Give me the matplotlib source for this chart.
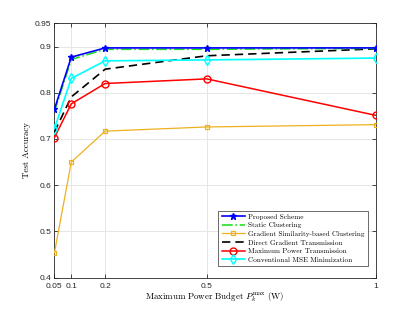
#!/usr/bin/env python3
import numpy as np
import matplotlib
matplotlib.use('Agg')
import matplotlib.pyplot as plt
plt.rcParams['font.family'] = 'Liberation Sans'
plt.rcParams['mathtext.fontset'] = 'cm'
plt.rcParams['font.size'] = 6

power_budget = [0.05, 0.1, 0.2, 0.5, 1.0]
proposed = [0.764, 0.877, 0.897, 0.897, 0.897]
static_clustering = [0.759, 0.872, 0.894, 0.894, 0.896]
grad_similarity = [0.453, 0.650, 0.717, 0.726, 0.731]
direct_transmission = [0.715, 0.791, 0.851, 0.880, 0.895]
max_power = [0.703, 0.776, 0.820, 0.830, 0.751]
conventional_mse = [0.722, 0.831, 0.869, 0.871, 0.875]

x_ticks = [0.05, 0.1, 0.2, 0.5, 1]
x_tick_labels = ['0.05', '0.1', '0.2', '0.5', '1']
y_ticks = [0.4, 0.5, 0.6, 0.7, 0.8, 0.9, 0.95]
y_tick_labels = ['0.4', '0.5', '0.6', '0.7', '0.8', '0.9', '0.95']

serif = 'cmr10'


def main():
    fig = plt.figure(figsize=(4.15, 3.12), dpi=100)
    ax = fig.add_axes([0.131, 0.110, 0.775, 0.815])

    ax.plot(power_budget, proposed, color='#0000ff', lw=1.2, marker='*', ms=5,
            label='Proposed Scheme', zorder=6)
    ax.plot(power_budget, static_clustering, color='#22e022', lw=1.2, ls='-.',
            label='Static Clustering', zorder=5)
    ax.plot(power_budget, grad_similarity, color='#EDB120', lw=0.9, marker='s', ms=3.5,
            mfc='none', mew=0.9, label='Gradient Similarity-based Clustering', zorder=4)
    ax.plot(power_budget, direct_transmission, color='black', lw=1.2, ls=(0, (5, 3)),
            label='Direct Gradient Transmission', zorder=3)
    ax.plot(power_budget, max_power, color='#ff0000', lw=1.1, marker='o', ms=5,
            mfc='none', mew=1.0, label='Maximum Power Transmission', zorder=4)
    ax.plot(power_budget, conventional_mse, color='#00ffff', lw=1.2, marker='d', ms=5,
            mfc='none', mew=1.0, label='Conventional MSE Minimization', zorder=5)

    ax.set_xlim(0.05, 1)
    ax.set_ylim(0.4, 0.95)
    ax.set_xticks(x_ticks)
    ax.set_xticklabels(x_tick_labels)
    ax.set_yticks(y_ticks)
    ax.set_yticklabels(y_tick_labels)
    ax.grid(True, color='#e6e6e6', lw=0.7)
    ax.set_axisbelow(True)
    ax.tick_params(direction='in', top=True, right=True, length=3, width=0.6,
                   colors='#262626', labelsize=6, pad=2)
    ax.tick_params(axis='x', pad=3.5)
    for s in ax.spines.values():
        s.set_color('#262626')
        s.set_linewidth(0.6)

    ax.set_xlabel(r'Maximum Power Budget $P_k^{\mathrm{max}}$ (W)', family=serif,
                  fontsize=6.4, labelpad=1)
    ax.set_ylabel('Test Accuracy', family=serif, fontsize=6.4, labelpad=3)

    leg = ax.legend(loc='lower right', bbox_to_anchor=(0.974, 0.046),
                    prop={'family': serif, 'size': 5.2}, frameon=True, fancybox=False,
                    edgecolor='#262626', handlelength=3.2, handletextpad=0.45,
                    labelspacing=0.35, borderpad=0.45, borderaxespad=0)
    leg.get_frame().set_linewidth(0.6)

    fig.savefig('out.png', dpi=100)


if __name__ == '__main__':
    main()
